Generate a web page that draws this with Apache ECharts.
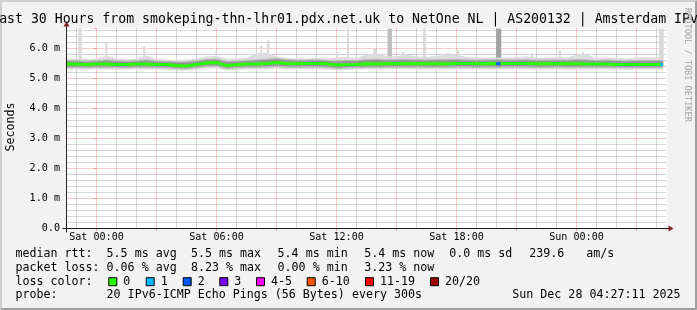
<!DOCTYPE html>
<html>
<head>
<meta charset="utf-8">
<script src="https://cdn.jsdelivr.net/npm/echarts@6/dist/echarts.min.js"></script>
<style>
html,body{margin:0;padding:0;background:#f2f2f2;}
#chart{width:697px;height:310px;}
</style>
</head>
<body>
<div id="chart"></div>
<script>
// ---------------- data ----------------
const titleText = 'Last 30 Hours from smokeping-thn-lhr01.pdx.net.uk to NetOne NL | AS200132 | Amsterdam IPv6';
const xTickHours = [0, 6, 12, 18, 24];
const xTickLabels = ['Sat 00:00', 'Sat 06:00', 'Sat 12:00', 'Sat 18:00', 'Sun 00:00'];
const yTickValues = [0, 1, 2, 3, 4, 5, 6];
const yTickLabels = ['0.0', '1.0 m', '2.0 m', '3.0 m', '4.0 m', '5.0 m', '6.0 m'];

// sample times, hours relative to Sat 00:00
const sampleHours = [-1.5,-1,-0.5,0,0.5,1,1.5,2,2.5,3,3.5,4,4.5,5,5.5,6,6.5,7,7.5,8,8.5,9,9.5,10,10.5,11,11.5,12,12.5,13,13.5,14,14.5,15,15.5,16,16.5,17,17.5,18,18.5,19,19.5,20,20.5,21,21.5,22,22.5,23,23.5,24,24.5,25,25.5,26,26.5,27,27.5,28,28.33];

// median rtt (ms)
const medianMs = [5.48,5.48,5.47,5.48,5.48,5.47,5.47,5.48,5.48,5.47,
  5.47,5.43,5.42,5.47,5.52,5.53,5.43,5.46,5.48,5.48,
  5.50,5.53,5.50,5.49,5.50,5.50,5.49,5.45,5.46,5.47,
  5.49,5.48,5.49,5.50,5.49,5.50,5.49,5.49,5.48,5.50,
  5.50,5.49,5.50,5.49,5.50,5.50,5.50,5.49,5.49,5.50,
  5.49,5.49,5.48,5.48,5.48,5.47,5.47,5.47,5.47,5.47,
  5.47];

// smoke envelope (ms): outer light band, middle band, dark core band
const smokeLowMs = [5.31,5.30,5.30,5.31,5.30,5.29,5.30,5.31,5.30,5.30,
  5.29,5.27,5.27,5.30,5.33,5.34,5.27,5.29,5.30,5.31,
  5.31,5.33,5.31,5.31,5.32,5.31,5.30,5.28,5.29,5.30,
  5.31,5.30,5.31,5.32,5.31,5.31,5.31,5.30,5.30,5.31,
  5.32,5.31,5.31,5.30,5.31,5.32,5.31,5.30,5.31,5.31,
  5.30,5.30,5.30,5.30,5.31,5.30,5.29,5.30,5.30,5.30,
  5.30];
const smokeHighMs = [5.67,5.66,5.65,5.66,5.76,5.66,5.64,5.66,5.77,5.64,
  5.63,5.62,5.63,5.66,5.74,5.76,5.66,5.67,5.68,5.84,
  5.86,5.74,5.68,5.67,5.66,5.68,5.67,5.70,5.72,5.68,
  5.80,5.84,5.74,5.74,5.80,5.74,5.72,5.76,5.78,5.80,
  5.72,5.70,5.69,5.70,5.70,5.72,5.74,5.69,5.68,5.72,
  5.70,5.80,5.80,5.68,5.70,5.68,5.67,5.70,5.72,5.70,
  5.72];
const midLowMs = [5.34,5.35,5.34,5.35,5.35,5.34,5.34,5.35,5.35,5.34,
  5.34,5.31,5.30,5.34,5.38,5.39,5.31,5.33,5.35,5.35,
  5.36,5.38,5.36,5.35,5.36,5.36,5.35,5.32,5.33,5.34,
  5.35,5.35,5.35,5.36,5.35,5.36,5.35,5.35,5.35,5.36,
  5.36,5.35,5.36,5.35,5.36,5.36,5.36,5.35,5.35,5.36,
  5.35,5.35,5.35,5.35,5.35,5.34,5.34,5.34,5.34,5.34,
  5.34];
const midHighMs = [5.62,5.61,5.60,5.61,5.64,5.61,5.60,5.61,5.64,5.60,
  5.59,5.57,5.57,5.61,5.66,5.67,5.59,5.60,5.62,5.64,
  5.66,5.68,5.65,5.63,5.63,5.64,5.62,5.61,5.62,5.62,
  5.65,5.66,5.64,5.65,5.66,5.65,5.64,5.65,5.65,5.66,
  5.64,5.63,5.64,5.65,5.64,5.64,5.65,5.63,5.63,5.64,
  5.63,5.65,5.64,5.62,5.63,5.62,5.61,5.62,5.62,5.62,
  5.62];
const coreLowMs = [5.39,5.40,5.39,5.40,5.40,5.39,5.39,5.40,5.40,5.39,
  5.39,5.36,5.35,5.39,5.43,5.44,5.36,5.38,5.40,5.40,
  5.41,5.43,5.41,5.40,5.41,5.41,5.40,5.37,5.38,5.39,
  5.40,5.40,5.40,5.41,5.40,5.41,5.40,5.40,5.40,5.41,
  5.41,5.40,5.41,5.40,5.41,5.41,5.41,5.40,5.40,5.41,
  5.40,5.40,5.40,5.40,5.40,5.39,5.39,5.39,5.39,5.39,
  5.39];
const coreHighMs = [5.58,5.57,5.56,5.57,5.60,5.57,5.56,5.57,5.60,5.56,
  5.55,5.53,5.53,5.57,5.62,5.63,5.55,5.56,5.58,5.60,
  5.62,5.64,5.61,5.59,5.59,5.60,5.58,5.57,5.58,5.58,
  5.61,5.62,5.60,5.61,5.62,5.61,5.60,5.61,5.61,5.62,
  5.60,5.59,5.60,5.61,5.60,5.60,5.61,5.59,5.59,5.60,
  5.59,5.61,5.60,5.58,5.59,5.58,5.57,5.58,5.58,5.58,
  5.58];

// isolated high pings (spikes)
const spikeStart = [-0.9, 0.44, 2.34, 5.94, 8.19, 8.52, 11.97, 12.52, 13.84, 14.55, 15.27, 16.32, 17.52, 18.02, 19.98, 21.72, 23.12, 24.27, 28.12];
const spikeEnd   = [-0.74, 0.54, 2.44, 6.04, 8.29, 8.64, 12.07, 12.62, 13.99, 14.77, 15.37, 16.47, 17.62, 18.12, 20.24, 21.82, 23.22, 24.37, 28.36];
const spikeTopMs = [6.66, 6.18, 6.07, 5.93, 6.10, 6.27, 5.89, 6.66, 5.98, 6.66, 5.89, 6.66, 5.85, 5.94, 6.66, 5.84, 5.94, 5.89, 6.66];
const spikeShade = [0, 0, 0, 0, 0, 0, 0, 0, 0, 1, 0, 0, 0, 0, 2, 0, 0, 0, 0];

// packet-loss episodes on the median line
const lossStart = [19.98, 28.2];
const lossEnd = [20.2, 28.33];
const lossMedianMs = [5.49, 5.47];
const lossLevel = [2, 1];

const lossLegendLabels = ['0', '1', '2', '3', '4-5', '6-10', '11-19', '20/20'];
const lossColors = ['#26ff00', '#00b8ff', '#0059ff', '#7e00ff', '#ff00ff', '#ff5500', '#ff0000', '#a10000'];

const row1Texts = ['median rtt:', '5.5 ms avg', '5.5 ms max', '5.4 ms min', '5.4 ms now', '0.0 ms sd', '239.6', 'am/s'];
const row2Texts = ['packet loss:', '0.06 % avg', '8.23 % max', '0.00 % min', '3.23 % now'];
const row3Title = 'loss color:';
const row4Texts = ['probe:', '20 IPv6-ICMP Echo Pings (56 Bytes) every 300s'];
const dateText = 'Sun Dec 28 04:27:11 2025';
const unitText = 'Seconds';
const watermarkText = 'RRDTOOL / TOBI OETIKER';

// ---------------- layout / style ----------------
const W = 697, H = 310;
const GL = 66.5, GT = 28.5, GW = 600, GH = 200;
const MONO = '"DejaVu Sans Mono", monospace';
const GRID_GRAY = 'rgba(143,143,143,0.75)';
const GRID_RED = 'rgba(222,79,79,0.6)';
const AXIS_COL = '#1f1f1f';
const ARROW_COL = '#801f1f';
const smokeColors = { outer: '#dcdcdc', mid: '#bababa', core: '#959595' };
const spikeColors = ['#d9d9d9', '#bcbcbc', '#a2a2a2'];
const SPIKE_BASE = 5.5;

const rowY = [254.2, 267.9, 281.7, 295.4];
const row1X = [15.5, 106.6, 191, 277.6, 364.3, 449.3, 529.3, 586.2];
const row2X = [15.5, 106.6, 191, 277.6, 364.3];
const boxX = [108.3, 145.7, 182.7, 219.3, 256, 306.7, 365, 430];
const row4X = [15.5, 106.6];

function txt(x, y, s, size, o) {
  o = o || {};
  return {
    type: 'text', x: x, y: y, rotation: o.rot || 0, silent: true, z: 50,
    style: {
      text: s, fill: o.color || '#000', font: size + 'px ' + MONO,
      textAlign: o.align || 'left', textVerticalAlign: o.va || 'middle',
      align: o.align || 'left', verticalAlign: o.va || 'middle'
    }
  };
}

const graphics = [];
graphics.push({ type: 'polygon', silent: true, z: 40, shape: { points: [[0,0],[W,0],[W-2,2],[2,2]] }, style: { fill: '#cfcfcf' } });
graphics.push({ type: 'polygon', silent: true, z: 40, shape: { points: [[0,0],[2,2],[2,H-2],[0,H]] }, style: { fill: '#cfcfcf' } });
graphics.push({ type: 'polygon', silent: true, z: 40, shape: { points: [[0,H],[2,H-2],[W-2,H-2],[W,H]] }, style: { fill: '#9e9e9e' } });
graphics.push({ type: 'polygon', silent: true, z: 40, shape: { points: [[W,0],[W,H],[W-2,H-2],[W-2,2]] }, style: { fill: '#9e9e9e' } });
graphics.push({ type: 'line', silent: true, z: 45, shape: { x1: GL - 4, y1: GT + GH, x2: GL + GW + 4, y2: GT + GH }, style: { stroke: AXIS_COL, lineWidth: 1 } });
graphics.push({ type: 'line', silent: true, z: 45, shape: { x1: GL, y1: GT + GH + 4, x2: GL, y2: GT - 4 }, style: { stroke: AXIS_COL, lineWidth: 1 } });
graphics.push({ type: 'polygon', silent: true, z: 46, shape: { points: [[GL+GW+2, GT+GH-3],[GL+GW+2, GT+GH+3],[GL+GW+7, GT+GH]] }, style: { fill: ARROW_COL } });
graphics.push({ type: 'polygon', silent: true, z: 46, shape: { points: [[GL-3, GT-2],[GL+3, GT-2],[GL, GT-7]] }, style: { fill: ARROW_COL } });
graphics.push(txt(348.5, 19.6, titleText, 13.2, { align: 'center' }));
graphics.push(txt(11, 127, unitText, 11.65, { align: 'center', rot: Math.PI / 2 }));
graphics.push(txt(687, 8, watermarkText, 8.6, { rot: -Math.PI / 2, color: '#a3a3a3' }));
row1Texts.forEach((s, i) => graphics.push(txt(row1X[i], rowY[0], s, 11.65)));
row2Texts.forEach((s, i) => graphics.push(txt(row2X[i], rowY[1], s, 11.65)));
graphics.push(txt(15.5, rowY[2], row3Title, 11.65));
lossLegendLabels.forEach((s, i) => {
  graphics.push({ type: 'rect', silent: true, z: 50, shape: { x: boxX[i] + 0.5, y: rowY[2] - 4, width: 8, height: 8 }, style: { fill: lossColors[i], stroke: '#000', lineWidth: 1 } });
  graphics.push(txt(boxX[i] + 15, rowY[2], s, 11.65));
});
row4Texts.forEach((s, i) => graphics.push(txt(row4X[i], rowY[3], s, 11.65)));
graphics.push(txt(680.5, rowY[3], dateText, 11.65, { align: 'right' }));

function bandSeries(lowArr, highArr, color, z) {
  return {
    type: 'custom', z: z, silent: true,
    encode: { x: 0, y: 1 },
    data: [[sampleHours[0], lowArr[0]]],
    renderItem: function (params, api) {
      const pts = [];
      for (let i = 0; i < sampleHours.length; i++) pts.push(api.coord([sampleHours[i], highArr[i]]));
      for (let i = sampleHours.length - 1; i >= 0; i--) pts.push(api.coord([sampleHours[i], lowArr[i]]));
      return { type: 'polygon', shape: { points: pts }, style: { fill: color } };
    }
  };
}

const chart = echarts.init(document.getElementById('chart'), null, { renderer: 'canvas' });
chart.setOption({
  animation: false,
  backgroundColor: '#f2f2f2',
  grid: { left: GL, top: GT, width: GW, height: GH, show: true, backgroundColor: '#ffffff', borderWidth: 0 },
  xAxis: {
    type: 'value', min: -1.5, max: 28.5, splitNumber: 10, minInterval: 3, maxInterval: 3,
    axisLine: { show: false },
    axisTick: { show: true, length: 2, lineStyle: { color: GRID_RED, width: 1 } },
    minorTick: { show: false, splitNumber: 3 },
    axisLabel: {
      show: true, margin: 9, verticalAlign: 'middle', color: '#000', fontSize: 10.1, fontFamily: MONO,
      formatter: function (v) { const k = xTickHours.indexOf(Math.round(v * 1000) / 1000); return k >= 0 ? xTickLabels[k] : ''; }
    },
    splitLine: { show: true, showMinLine: false, showMaxLine: false, lineStyle: { color: GRID_RED, width: 1, type: [1, 1] } },
    minorSplitLine: { show: true, lineStyle: { color: GRID_GRAY, width: 1, type: [1, 1] } }
  },
  yAxis: {
    type: 'value', min: 0, max: 6.6667, interval: 1,
    axisLine: { show: false },
    axisTick: { show: true, length: 2, lineStyle: { color: GRID_RED, width: 1 } },
    minorTick: { show: false, splitNumber: 5 },
    axisLabel: {
      show: true, margin: 6.5, color: '#000', fontSize: 10.1, fontFamily: MONO,
      formatter: function (v) { const k = yTickValues.indexOf(Math.round(v * 1000) / 1000); return k >= 0 ? yTickLabels[k] : ''; }
    },
    splitLine: { show: true, showMinLine: false, showMaxLine: false, lineStyle: { color: GRID_RED, width: 1, type: [1, 1] } },
    minorSplitLine: { show: true, lineStyle: { color: GRID_GRAY, width: 1, type: [1, 1] } }
  },
  graphic: { elements: graphics },
  series: [
    {
      type: 'custom', z: 2, silent: true,
      encode: { x: [0, 1], y: 2 },
      data: spikeStart.map((s, i) => [s, spikeEnd[i], spikeTopMs[i], spikeShade[i]]),
      renderItem: function (params, api) {
        const a = api.coord([api.value(0), api.value(2)]);
        const b = api.coord([api.value(1), SPIKE_BASE]);
        return { type: 'rect', shape: { x: a[0], y: a[1], width: b[0] - a[0], height: b[1] - a[1] }, style: { fill: spikeColors[api.value(3)] } };
      }
    },
    bandSeries(smokeLowMs, smokeHighMs, smokeColors.outer, 3),
    bandSeries(midLowMs, midHighMs, smokeColors.mid, 3),
    bandSeries(coreLowMs, coreHighMs, smokeColors.core, 4),
    {
      type: 'line', z: 5, silent: true, showSymbol: false,
      data: sampleHours.map((t, i) => [t, medianMs[i]]),
      lineStyle: { color: lossColors[0], width: 3 }
    },
    {
      type: 'custom', z: 6, silent: true,
      encode: { x: [0, 1], y: 2 },
      data: lossStart.map((s, i) => [s, lossEnd[i], lossMedianMs[i], lossLevel[i]]),
      renderItem: function (params, api) {
        const a = api.coord([api.value(0), api.value(2)]);
        const b = api.coord([api.value(1), api.value(2)]);
        return { type: 'line', shape: { x1: a[0], y1: a[1], x2: b[0], y2: b[1] }, style: { stroke: lossColors[api.value(3)], lineWidth: 3 } };
      }
    }
  ]
});
</script>
</body>
</html>
